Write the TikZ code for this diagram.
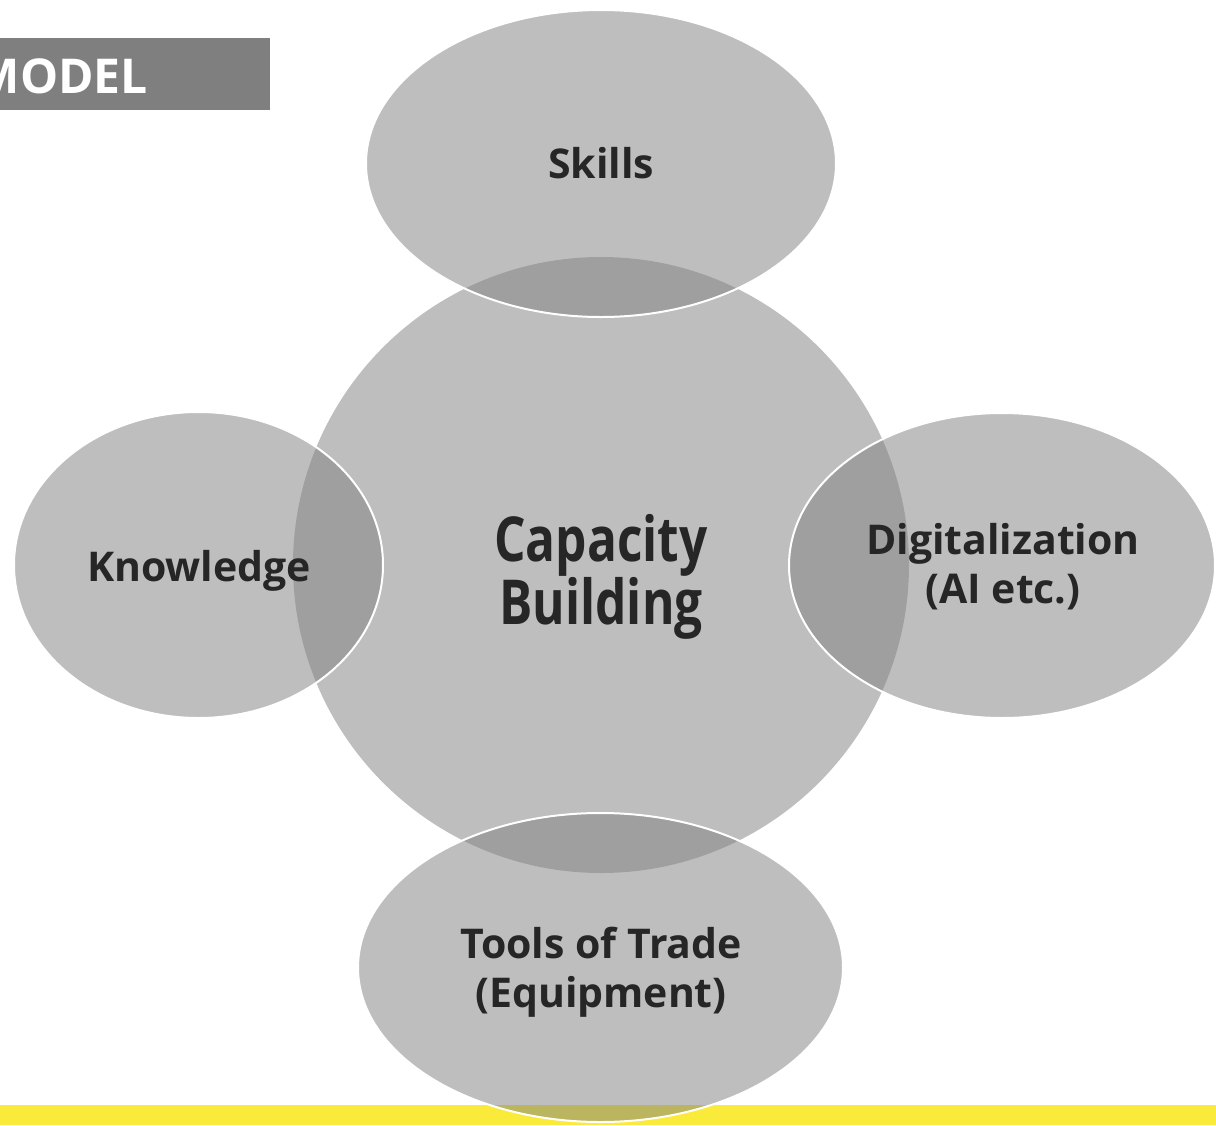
\documentclass[tikz,border=0pt]{standalone}
\usepackage{fontspec}
\setmainfont{Open Sans}
\newfontfamily\bigfont{Open Sans}[FakeStretch=0.8]
\definecolor{bubble}{RGB}{131,131,131}
\definecolor{ink}{RGB}{38,38,38}
\definecolor{band}{RGB}{250,235,58}
\definecolor{tag}{RGB}{127,127,127}
\begin{document}
\begin{tikzpicture}[x=1pt,y=-1pt,
  bub/.style={fill=bubble,fill opacity=0.516,draw=white,line width=2pt},
  core/.style={fill=bubble,fill opacity=0.516,draw=none},
  lbl/.style={text=ink,font=\bfseries\fontsize{41}{49}\selectfont,align=center,inner sep=0pt,anchor=base},
  biglbl/.style={text=ink,font=\bigfont\bfseries\fontsize{62}{61}\selectfont,align=center,inner sep=0pt,anchor=base}]
\useasboundingbox (0,0) rectangle (1216,1125);
\fill[white] (0,0) rectangle (1216,1125);
% header tag
\fill[tag] (0,38) rectangle (270,110);
\node[text=white,font=\bfseries\fontsize{48}{52}\selectfont,inner sep=0pt,anchor=base east] (model) at (148,93) {MODEL};
% yellow band
\fill[band] (0,1105) rectangle (1216,1125);
% central circle
\path[core] (601,565) circle[radius=308];
% surrounding ellipses
\path[bub] (601,163.5) ellipse[x radius=235,y radius=153.5];
\path[bub] (198.5,565) ellipse[x radius=184.5,y radius=153];
\path[bub] (1002,565.5) ellipse[x radius=213,y radius=152.5];
\path[bub] (600.5,967.5) ellipse[x radius=242.5,y radius=154.5];
% labels (base anchor = baseline of last line)
\node[biglbl] (cap) at (601,624) {Capacity\\Building};
\node[lbl] (skills) at (601,178) {Skills};
\node[lbl] (know) at (199,581) {Knowledge};
\node[lbl] (digi) at (1003,603) {Digitalization\\(AI etc.)};
\node[lbl] (tools) at (601,1007) {Tools of Trade\\(Equipment)};
\end{tikzpicture}
\end{document}
